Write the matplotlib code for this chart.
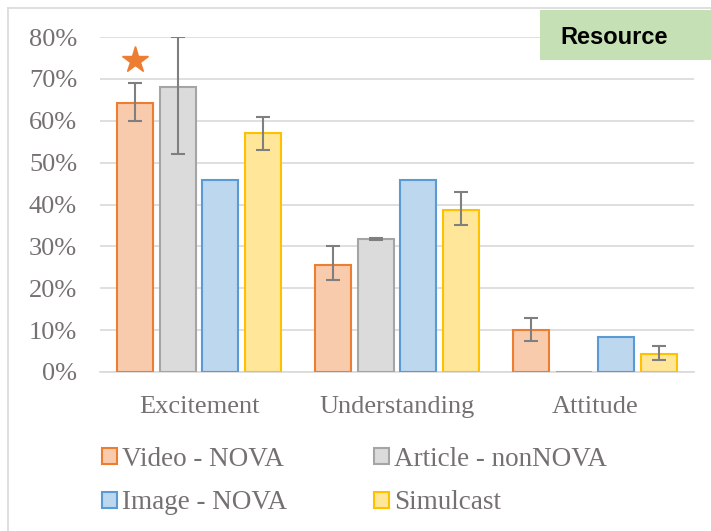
import matplotlib
matplotlib.use("Agg")
import matplotlib.pyplot as plt
import numpy as np
from matplotlib.patches import Rectangle
from matplotlib.lines import Line2D

categories = ["Excitement", "Understanding", "Attitude"]
series = ["Video - NOVA", "Article - nonNOVA", "Image - NOVA", "Simulcast"]
video = [64.3, 25.6, 10.0]
article = [68.0, 31.7, 0.0]
image = [45.8, 45.8, 8.3]
simulcast = [57.0, 38.6, 4.2]
video_lo = [60.0, 22.0, 7.5]
video_hi = [69.0, 30.0, 13.0]
article_lo = [52.0, 31.6, 0.0]
article_hi = [80.0, 31.9, 0.0]
simulcast_lo = [53.0, 35.0, 2.8]
simulcast_hi = [61.0, 43.0, 6.2]
yticks = [0, 10, 20, 30, 40, 50, 60, 70, 80]

faces = ["#F8CBAD", "#DBDBDB", "#BDD7EE", "#FFE699"]
edges = ["#ED7D31", "#A5A5A5", "#5B9BD5", "#FFC000"]

fig = plt.figure(figsize=(7.11, 5.31), dpi=100)
ax = fig.add_axes([100/711, 1-372/531, (694-100)/711, (372-37)/531])

x = np.arange(len(categories))
width = 0.18
step = 0.215
vals = [video, article, image, simulcast]
errs = [(video_lo, video_hi), (article_lo, article_hi), None, (simulcast_lo, simulcast_hi)]
for i, (v, fc, ec) in enumerate(zip(vals, faces, edges)):
    pos = x + (i - 1.5) * step
    v = np.array(v)
    ax.bar(pos, v, width, facecolor=fc, edgecolor=ec, linewidth=1.5, zorder=3)
    if errs[i] is not None:
        lo, hi = np.array(errs[i][0]), np.array(errs[i][1])
        mask = (hi - lo) > 0
        ax.errorbar(pos[mask], v[mask], yerr=[v[mask] - lo[mask], hi[mask] - v[mask]],
                    fmt="none", ecolor="#7F7F7F", elinewidth=1.5, capsize=5, capthick=1.5, zorder=4)

# star on video excitement
ax.plot([x[0] - 1.5 * step], [74.5], marker="*", markersize=20, color="#ED7D31",
        markeredgecolor="#ED7D31", linestyle="none", zorder=5, clip_on=False)

ax.set_xlim(-0.5, 2.5)
ax.set_ylim(0, 80)
ax.set_yticks(yticks)
ax.set_yticklabels([f"{t}%" for t in yticks], fontfamily="Liberation Serif", fontsize=19, color="#767171")
ax.set_xticks(x)
ax.set_xticklabels(categories, fontfamily="Liberation Serif", fontsize=19, color="#767171")
ax.tick_params(axis="both", length=0)
ax.tick_params(axis="y", pad=16.5)
ax.tick_params(axis="x", pad=17)
ax.yaxis.grid(True, color="#D9D9D9", linewidth=1.2, zorder=0)
ax.set_axisbelow(True)
for s in ["top", "right", "left"]:
    ax.spines[s].set_visible(False)
ax.spines["bottom"].set_color("#D9D9D9")
ax.spines["bottom"].set_linewidth(1.2)

handles = [Rectangle((0, 0), 1, 1, facecolor=fc, edgecolor=ec, linewidth=1.5) for fc, ec in zip(faces, edges)]
order = [0, 2, 1, 3]
leg = fig.legend([handles[i] for i in order], [series[i] for i in order], ncol=2,
                 loc="upper left", bbox_to_anchor=(91/711, 1-436/531),
                 frameon=False, prop={"family": "Liberation Serif", "size": 19.5},
                 handlelength=0.55, handleheight=0.55, handletextpad=0.2,
                 columnspacing=3.2, labelspacing=0.68, borderaxespad=0)
for t in leg.get_texts():
    t.set_color("#767171")

# Resource box
fig.patches.append(Rectangle((540/711, 1-60/531), 171/711, 50/531, transform=fig.transFigure,
                             facecolor="#C5E0B4", edgecolor="none", zorder=10))
fig.text(614/711, 1-37/531, "Resource", ha="center", va="center", fontsize=17,
         fontweight="bold", fontfamily="Liberation Sans", color="black", zorder=11)

# figure border lines
fig.add_artist(Line2D([8/711, 8/711], [0, 1-8/531], transform=fig.transFigure, color="#D9D9D9", linewidth=1.2))
fig.add_artist(Line2D([8/711, 1], [1-8/531, 1-8/531], transform=fig.transFigure, color="#D9D9D9", linewidth=1.2))

fig.savefig("out.png", dpi=100)
